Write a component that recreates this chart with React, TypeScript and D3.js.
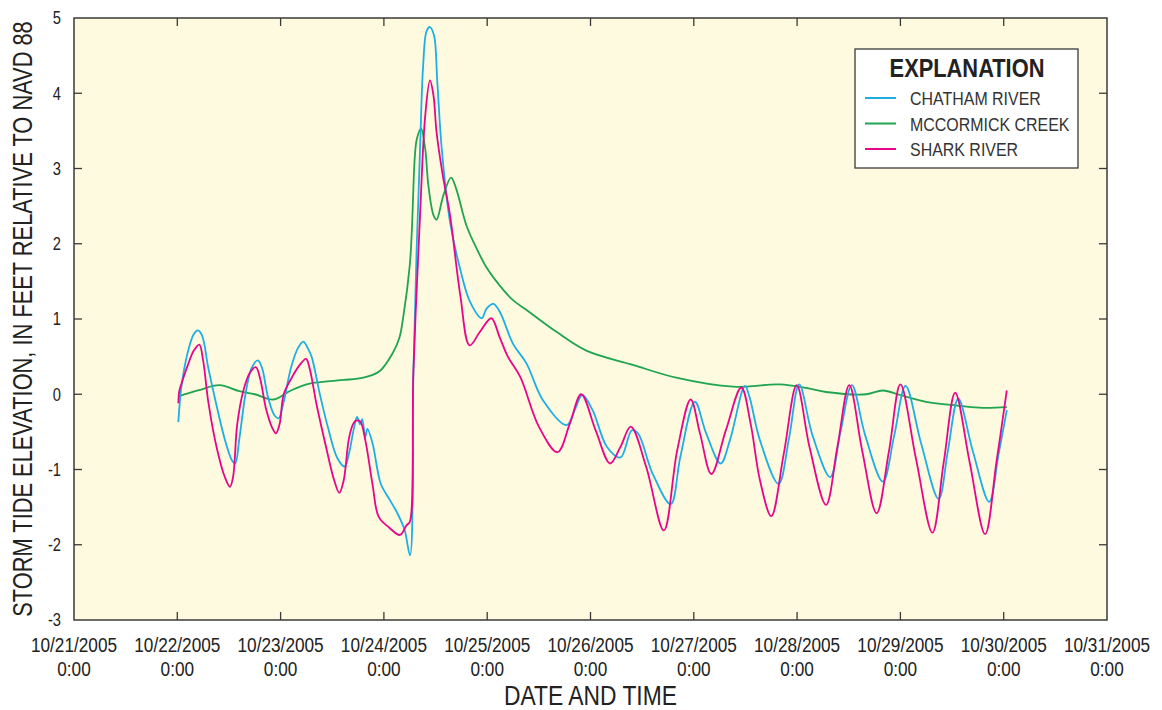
import React from 'react';
import * as d3 from 'd3';

// time in days after 10/21/2005 0:00, value in feet
const chathamRiver: [number, number][] = [
  [1.01, -0.37], [1.04, 0.1], [1.1, 0.55], [1.16, 0.8], [1.2, 0.85], [1.24, 0.78], [1.3, 0.35],
  [1.38, -0.15], [1.46, -0.6], [1.53, -0.88], [1.56, -0.92], [1.6, -0.6], [1.66, 0.0], [1.72, 0.35],
  [1.78, 0.45], [1.82, 0.35], [1.88, -0.05], [1.94, -0.28], [1.98, -0.32], [2.03, -0.1], [2.1, 0.35],
  [2.17, 0.62], [2.22, 0.7], [2.26, 0.62], [2.3, 0.5], [2.38, 0.0], [2.46, -0.45], [2.55, -0.85],
  [2.62, -0.96], [2.66, -0.8], [2.71, -0.45], [2.74, -0.3], [2.77, -0.4], [2.79, -0.33], [2.82, -0.57],
  [2.84, -0.46], [2.89, -0.65], [2.97, -1.19], [3.06, -1.41], [3.13, -1.58], [3.2, -1.8], [3.253, -2.14],
  [3.285, 0.27], [3.317, 1.93], [3.35, 3.26], [3.38, 4.37], [3.414, 4.83], [3.446, 4.88], [3.485, 4.77],
  [3.517, 4.15], [3.56, 3.26], [3.64, 2.29], [3.737, 1.67], [3.833, 1.23], [3.947, 1.01], [3.995, 1.14],
  [4.06, 1.2], [4.124, 1.09], [4.25, 0.67], [4.38, 0.41], [4.54, -0.08], [4.77, -0.41], [4.85, -0.2],
  [4.92, -0.01], [5.02, -0.21], [5.16, -0.7], [5.29, -0.84], [5.4, -0.48], [5.46, -0.52], [5.6, -1.05],
  [5.776, -1.46], [5.87, -0.83], [6.01, -0.1], [6.12, -0.52], [6.26, -0.92], [6.35, -0.61], [6.495, 0.11],
  [6.54, -0.04], [6.64, -0.61], [6.82, -1.19], [6.92, -0.6], [7.02, 0.13], [7.15, -0.55], [7.32, -1.1],
  [7.42, -0.5], [7.53, 0.12], [7.66, -0.55], [7.83, -1.16], [7.94, -0.55], [8.05, 0.11], [8.2, -0.65],
  [8.37, -1.39], [8.46, -0.75], [8.56, -0.06], [8.7, -0.75], [8.86, -1.43], [8.95, -0.8], [9.03, -0.21],
];

const mccormickCreek: [number, number][] = [
  [1.01, -0.03], [1.2, 0.05], [1.41, 0.12], [1.6, 0.04], [1.75, 0.0], [1.93, -0.07], [2.1, 0.05],
  [2.28, 0.14], [2.45, 0.17], [2.61, 0.19], [2.8, 0.22], [2.96, 0.31], [3.09, 0.56], [3.15, 0.75],
  [3.19, 1.05], [3.25, 1.71], [3.27, 2.16], [3.3, 3.17], [3.32, 3.4], [3.36, 3.53], [3.4, 3.26],
  [3.43, 2.78], [3.48, 2.38], [3.51, 2.32], [3.575, 2.64], [3.65, 2.88], [3.7, 2.73], [3.8, 2.24],
  [3.9, 1.93], [4.0, 1.67], [4.16, 1.38], [4.25, 1.25], [4.41, 1.09], [4.67, 0.83], [4.96, 0.58],
  [5.41, 0.39], [5.83, 0.22], [6.38, 0.1], [6.83, 0.13], [7.1, 0.08], [7.28, 0.03], [7.67, 0.0],
  [7.83, 0.05], [8.0, -0.01], [8.25, -0.1], [8.55, -0.15], [8.8, -0.18], [9.03, -0.17],
];

const sharkRiver: [number, number][] = [
  [1.01, -0.12], [1.02, 0.05], [1.04, 0.14], [1.1, 0.38], [1.16, 0.58], [1.213, 0.66], [1.25, 0.45],
  [1.3, -0.1], [1.38, -0.7], [1.46, -1.1], [1.51, -1.23], [1.54, -1.1], [1.58, -0.4], [1.64, 0.05],
  [1.7, 0.28], [1.76, 0.36], [1.8, 0.22], [1.86, -0.2], [1.92, -0.45], [1.955, -0.52], [1.99, -0.4],
  [2.03, 0.0], [2.1, 0.2], [2.18, 0.38], [2.246, 0.47], [2.28, 0.35], [2.35, -0.15], [2.44, -0.7],
  [2.52, -1.15], [2.568, -1.31], [2.61, -1.15], [2.66, -0.6], [2.7, -0.4], [2.73, -0.35], [2.77, -0.36],
  [2.82, -0.61], [2.89, -1.2], [2.95, -1.63], [3.05, -1.77], [3.156, -1.87], [3.22, -1.74], [3.25, -1.7],
  [3.285, 0.27], [3.35, 2.38], [3.4, 3.7], [3.446, 4.17], [3.48, 3.97], [3.51, 3.48], [3.57, 2.91],
  [3.64, 2.38], [3.74, 1.31], [3.83, 0.65], [3.93, 0.83], [4.04, 1.01], [4.12, 0.76], [4.2, 0.5],
  [4.32, 0.23], [4.5, -0.43], [4.68, -0.77], [4.8, -0.39], [4.91, 0.0], [5.05, -0.48], [5.19, -0.92],
  [5.29, -0.7], [5.39, -0.43], [5.54, -0.97], [5.71, -1.81], [5.84, -0.74], [5.97, -0.07], [6.06, -0.52],
  [6.17, -1.06], [6.31, -0.48], [6.46, 0.09], [6.55, -0.39], [6.64, -1.14], [6.75, -1.62], [6.87, -0.8],
  [6.996, 0.12], [7.12, -0.7], [7.28, -1.47], [7.39, -0.7], [7.505, 0.12], [7.63, -0.75], [7.77, -1.58],
  [7.89, -0.75], [8.0, 0.13], [8.15, -0.85], [8.31, -1.84], [8.42, -0.9], [8.53, 0.02], [8.67, -0.9],
  [8.82, -1.86], [8.93, -0.9], [9.03, 0.05],
];

const seriesNames = ['CHATHAM RIVER', 'MCCORMICK CREEK', 'SHARK RIVER'];
const seriesColors = ['#1eaee6', '#1fa451', '#e8058a'];
const yTicks = [-3, -2, -1, 0, 1, 2, 3, 4, 5];

const FONT = "'Liberation Sans', Arial, sans-serif";
const start = Date.UTC(2005, 9, 21);
const DAY = 86400000;
const toDate = (d: number) => new Date(start + d * DAY);

type NTextProps = {
  x: number;
  y: number;
  size: number;
  squeeze?: number;
  anchor?: 'start' | 'middle' | 'end';
  weight?: string;
  fill?: string;
  rotate?: number;
  children: React.ReactNode;
};

// condensed text: scale the glyphs horizontally around the anchor point
function NText({ x, y, size, squeeze = 0.84, anchor = 'start', weight = 'normal', fill = '#222', rotate = 0, children }: NTextProps) {
  return (
    <text
      transform={`translate(${x},${y}) rotate(${rotate}) scale(${squeeze},1)`}
      textAnchor={anchor}
      fontSize={size}
      fontWeight={weight}
      fill={fill}
    >
      {children}
    </text>
  );
}

export default function App() {
  const width = 1162;
  const height = 710;
  const margin = { top: 18, right: 55, bottom: 90, left: 74 };
  const innerW = 1107 - margin.left;
  const innerH = 620 - margin.top;

  const x = d3.scaleUtc().domain([toDate(0), toDate(10)]).range([0, innerW]);
  const y = d3.scaleLinear().domain([-3, 5]).range([innerH, 0]);
  const xTicks = x.ticks(d3.utcDay.every(1)!);
  const fmtDate = d3.utcFormat('%m/%d/%Y');
  const fmtTime = d3.utcFormat('%-H:%M');

  const line = d3
    .line<[number, number]>()
    .x((d) => x(toDate(d[0])))
    .y((d) => y(d[1]))
    .curve(d3.curveCatmullRom.alpha(0.5));

  const series = [chathamRiver, mccormickCreek, sharkRiver];
  const axisColor = '#3a3a3a';

  return (
    <svg width={width} height={height} style={{ position: 'absolute', left: 0, top: 0 }} fontFamily={FONT}>
      <rect width={width} height={height} fill="#fff" />
      <g transform={`translate(${margin.left},${margin.top})`}>
        <rect width={innerW} height={innerH} fill="#fefadf" />
        {[1, 0, 2].map((i) => (
          <path key={i} d={line(series[i]) ?? ''} fill="none" stroke={seriesColors[i]} strokeWidth={1.8} />
        ))}
        <rect width={innerW} height={innerH} fill="none" stroke={axisColor} strokeWidth={1.5} />
        {xTicks.slice(1, -1).map((t) => (
          <g key={+t} transform={`translate(${x(t)},0)`} stroke={axisColor} strokeWidth={1.3}>
            <line y1={0} y2={8} />
            <line y1={innerH} y2={innerH - 8} />
          </g>
        ))}
        {yTicks.slice(1, -1).map((v) => (
          <g key={v} transform={`translate(0,${y(v)})`} stroke={axisColor} strokeWidth={1.3}>
            <line x1={0} x2={8} />
            <line x1={innerW} x2={innerW - 8} />
          </g>
        ))}
        {yTicks.map((v) => (
          <NText key={v} x={-13} y={y(v) + 6.3} size={17.5} anchor="end">
            {v}
          </NText>
        ))}
        {xTicks.map((t) => (
          <g key={+t}>
            <NText x={x(t)} y={innerH + 32} size={20.5} anchor="middle">
              {fmtDate(t)}
            </NText>
            <NText x={x(t)} y={innerH + 56} size={20.5} anchor="middle">
              {fmtTime(t)}
            </NText>
          </g>
        ))}
        <NText x={innerW / 2} y={innerH + 85} size={27.5} squeeze={0.83} anchor="middle">
          DATE AND TIME
        </NText>
        <NText x={-42} y={innerH / 2} size={28} squeeze={0.78} anchor="middle" rotate={-90}>
          STORM TIDE ELEVATION, IN FEET RELATIVE TO NAVD 88
        </NText>
        <g transform={`translate(${855 - margin.left},${49 - margin.top})`}>
          <rect width={223} height={119} fill="#fff" stroke={axisColor} strokeWidth={1.3} />
          <NText x={112} y={28} size={26} anchor="middle" weight="bold">
            EXPLANATION
          </NText>
          {seriesNames.map((name, i) => (
            <g key={name} transform={`translate(0,${49 + i * 25.5})`}>
              <line x1={10} x2={41} stroke={seriesColors[i]} strokeWidth={2} />
              <NText x={55} y={7} size={19} fill="#333">
                {name}
              </NText>
            </g>
          ))}
        </g>
      </g>
    </svg>
  );
}
